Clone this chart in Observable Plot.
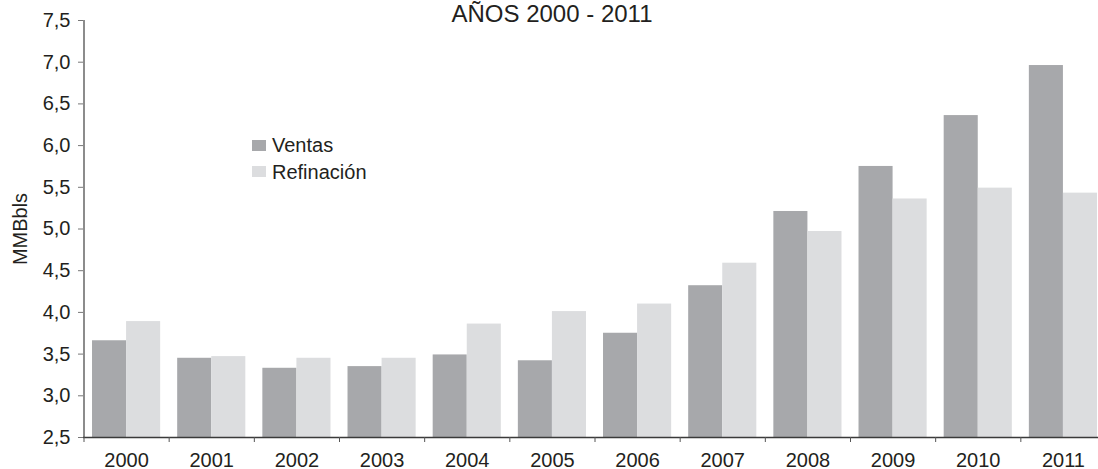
<!DOCTYPE html>
<html>
<head>
<meta charset="utf-8">
<script src="https://cdn.jsdelivr.net/npm/d3@7"></script>
<script src="https://cdn.jsdelivr.net/npm/@observablehq/plot@0.6"></script>
<style>
  html, body { margin: 0; padding: 0; background: #fff; overflow: hidden; }
  #wrap { position: relative; width: 1098px; height: 469px; font-family: "Liberation Sans", Arial, sans-serif; color: #231f20; }
  #title { position: absolute; left: 0; width: 1104px; top: 2px; text-align: center; font-size: 24px; line-height: 24px; white-space: nowrap; }
  .sw { position: absolute; width: 14px; height: 11px; }
  .lg { position: absolute; font-size: 20px; line-height: 20px; white-space: nowrap; }
</style>
</head>
<body>
<div id="wrap">
  <div id="chart"></div>
  <div id="title">AÑOS 2000 - 2011</div>
  <div id="legend"></div>
</div>
<script>
const years = [2000, 2001, 2002, 2003, 2004, 2005, 2006, 2007, 2008, 2009, 2010, 2011];
const ventas = [3.66, 3.45, 3.33, 3.35, 3.49, 3.42, 3.75, 4.32, 5.21, 5.75, 6.36, 6.96];
const refinacion = [3.89, 3.47, 3.45, 3.45, 3.86, 4.01, 4.10, 4.59, 4.97, 5.36, 5.49, 5.43];
const series = ["Ventas", "Refinación"];
const colors = ["#a7a8ab", "#dcdddf"];
const yTicks = [2.5, 3.0, 3.5, 4.0, 4.5, 5.0, 5.5, 6.0, 6.5, 7.0, 7.5];
const title = "AÑOS 2000 - 2011";
const yLabel = "MMBbls";

const rows = [];
years.forEach((yr, i) => {
  rows.push({year: yr, serie: series[0], value: ventas[i]});
  rows.push({year: yr, serie: series[1], value: refinacion[i]});
});
const boundaries = years.map(y => y - 0.5).concat([years[years.length - 1] + 0.5]);
const half = 0.4;

const chart = Plot.plot({
  width: 1098,
  height: 469,
  marginTop: 20,
  marginBottom: 32,
  marginLeft: 83,
  marginRight: 0,
  style: {fontFamily: "Liberation Sans, Arial, sans-serif", fontSize: "20px", color: "#231f20", background: "transparent", overflow: "visible"},
  x: {type: "linear", domain: [years[0] - 0.5, years[years.length - 1] + 0.5], range: [83.5, 1105.5]},
  y: {domain: [yTicks[0], yTicks[yTicks.length - 1]]},
  color: {domain: series, range: colors},
  marks: [
    Plot.rect(rows, {
      x1: d => d.year + (d.serie === series[0] ? -half : 0),
      x2: d => d.year + (d.serie === series[0] ? 0 : half),
      y1: yTicks[0],
      y2: "value",
      fill: "serie"
    }),
    Plot.ruleX([boundaries[0]], {y1: yTicks[0], y2: yTicks[yTicks.length - 1], stroke: "#8c8c8c", strokeWidth: 2}),
    Plot.ruleY([yTicks[0]], {stroke: "#3a3a3a", strokeWidth: 1.5}),
    Plot.axisY({ticks: yTicks, tickSize: 5, tickPadding: 8, stroke: "#777", fill: "#231f20", tickFormat: d => d3.format(".1f")(d).replace(".", ","), label: yLabel, labelAnchor: "center", labelArrow: "none", labelOffset: 71, fontSize: 20}),
    Plot.axisX({ticks: years, tickSize: 0, tickPadding: 15, tickFormat: d => String(d), label: null, fill: "#231f20", fontSize: 20}),
    Plot.axisX({ticks: boundaries, tickSize: 5, tickFormat: () => "", label: null, stroke: "#555"})
  ]
});
document.getElementById("chart").appendChild(chart);

const legend = document.getElementById("legend");
const lgPos = [{sw: 140, tx: 135}, {sw: 166, tx: 162}];
series.forEach((s, i) => {
  const sw = document.createElement("div");
  sw.className = "sw";
  sw.style.left = "252px";
  sw.style.top = lgPos[i].sw + "px";
  sw.style.background = colors[i];
  legend.appendChild(sw);
  const t = document.createElement("div");
  t.className = "lg";
  t.style.left = "272px";
  t.style.top = lgPos[i].tx + "px";
  t.textContent = s;
  legend.appendChild(t);
});
</script>
</body>
</html>
